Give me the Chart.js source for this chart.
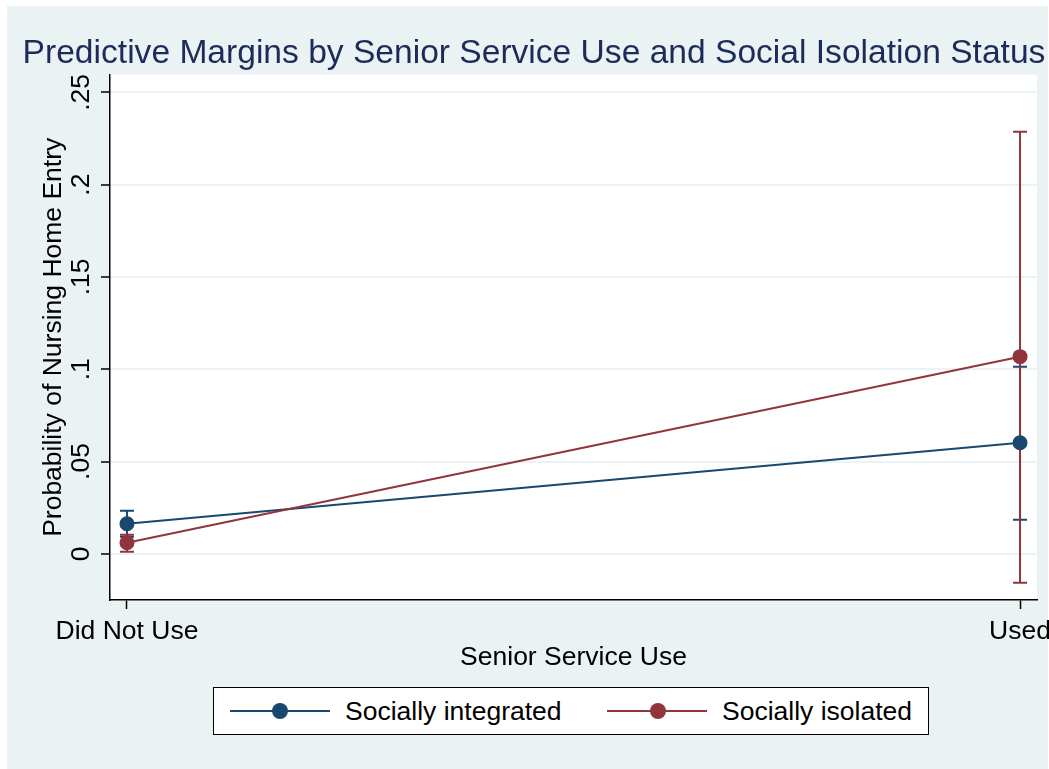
<!DOCTYPE html>
<html>
<head>
<meta charset="utf-8">
<script src="https://cdn.jsdelivr.net/npm/chart.js@4/dist/chart.umd.min.js"></script>
<style>
  body { margin: 0; background: #fff; }
  #wrap { position: relative; width: 1049px; height: 769px; overflow: hidden; }
  #bg { position: absolute; left: 7px; top: 6px; right: 1px; bottom: 0; background: #eaf2f3; }
  #box { position: absolute; left: 0; top: 0; width: 1049px; height: 769px; }
  #legend { position: absolute; left: 213px; top: 687px; width: 714px; height: 46px;
    background: #fff; border: 1px solid #000; font-family: 'Liberation Sans', Arial, sans-serif; font-size: 26.5px; }
  .ln { position: absolute; top: 22px; width: 100px; height: 2px; }
  .dot { position: absolute; top: 15px; width: 16px; height: 16px; border-radius: 50%; }
  .lab { position: absolute; top: 8px; line-height: 30px; color: #000; white-space: nowrap; }
</style>
</head>
<body>
<div id="wrap">
  <div id="bg"></div>
  <div id="box"><canvas id="myChart"></canvas></div>
  <div id="legend">
    <div class="ln" style="left:16px;background:#1a476f"></div>
    <div class="dot" style="left:58px;background:#1a476f"></div>
    <div class="lab" style="left:131px">Socially integrated</div>
    <div class="ln" style="left:393px;background:#90353b"></div>
    <div class="dot" style="left:436px;background:#90353b"></div>
    <div class="lab" style="left:508px">Socially isolated</div>
  </div>
</div>
<script>
'use strict';

// data
var categories = ['Did Not Use', 'Used'];
var integrated = [0.0163, 0.0602];
var integratedLo = [0.0092, 0.0184];
var integratedHi = [0.0233, 0.1013];
var isolated = [0.0060, 0.1068];
var isolatedLo = [0.0011, -0.0157];
var isolatedHi = [0.0103, 0.2287];
var yTicks = [0, 0.05, 0.1, 0.15, 0.2, 0.25];
var yTickLabels = ['0', '.05', '.1', '.15', '.2', '.25'];

var navy = '#1a476f';
var maroon = '#90353b';
var font = "'Liberation Sans', Arial, sans-serif";

function pts(values) {
  return values.map(function(v, i) { return { x: i, y: v }; });
}

// one capped vertical bar per category
function ciSets(lo, hi, color, order) {
  return categories.map(function(c, i) {
    return {
      data: [{ x: i, y: lo[i] }, { x: i, y: hi[i] }],
      borderColor: color,
      borderWidth: 2,
      pointStyle: 'line',
      pointRadius: 7,
      pointBorderColor: color,
      pointBorderWidth: 2,
      order: order
    };
  });
}

// white plot region
var plotBgPlugin = {
  id: 'plotBg',
  beforeDraw: function(chart) {
    var a = chart.chartArea;
    chart.ctx.save();
    chart.ctx.fillStyle = '#fff';
    chart.ctx.fillRect(a.left, a.top, a.right - a.left, a.bottom - a.top);
    chart.ctx.restore();
  }
};

// rotated y tick labels, Stata style
var yLabelsPlugin = {
  id: 'yLabels',
  afterDraw: function(chart) {
    var ctx = chart.ctx;
    var y = chart.scales.y;
    ctx.save();
    ctx.font = '26.5px ' + font;
    ctx.fillStyle = '#000';
    ctx.textAlign = 'center';
    ctx.textBaseline = 'alphabetic';
    for (var i = 0; i < yTicks.length; i++) {
      ctx.save();
      ctx.translate(89, y.getPixelForValue(yTicks[i]));
      ctx.rotate(-Math.PI / 2);
      ctx.fillText(yTickLabels[i], 0, 0);
      ctx.restore();
    }
    ctx.restore();
  }
};

var datasets = []
  .concat(ciSets(integratedLo, integratedHi, navy, 4))
  .concat(ciSets(isolatedLo, isolatedHi, maroon, 3))
  .concat([{
    data: pts(integrated),
    borderColor: navy,
    backgroundColor: navy,
    borderWidth: 2,
    pointRadius: 7.5,
    pointBorderWidth: 0,
    order: 2
  }, {
    data: pts(isolated),
    borderColor: maroon,
    backgroundColor: maroon,
    borderWidth: 2,
    pointRadius: 7.5,
    pointBorderWidth: 0,
    order: 1
  }]);

var ctx = document.getElementById('myChart').getContext('2d');
var chart = new Chart(ctx, {
  type: 'line',
  data: { datasets: datasets },
  plugins: [plotBgPlugin, yLabelsPlugin],
  options: {
    responsive: true,
    maintainAspectRatio: false,
    animation: false,
    layout: { padding: { left: 19, right: 0, top: 6, bottom: 98 } },
    plugins: {
      legend: { display: false },
      tooltip: { enabled: false },
      title: {
        display: true,
        text: 'Predictive Margins by Senior Service Use and Social Isolation Status',
        color: '#1c2b59',
        font: { family: font, size: 33.6, weight: 'normal', lineHeight: 1 },
        padding: { top: 31, bottom: 4 }
      }
    },
    scales: {
      x: {
        type: 'linear',
        min: -0.019,
        max: 1.019,
        afterBuildTicks: function(s) { s.ticks = categories.map(function(c, i) { return { value: i }; }); },
        ticks: {
          color: '#000',
          font: { family: font, size: 26.5, lineHeight: 0.85 },
          padding: 11,
          maxRotation: 0,
          callback: function(v) { return categories[v]; }
        },
        grid: { drawOnChartArea: false, tickLength: 9, tickColor: '#000', tickWidth: 1.5 },
        border: { color: '#000', width: 1.5 },
        title: {
          display: true,
          text: 'Senior Service Use',
          color: '#000',
          font: { family: font, size: 26.5, lineHeight: 1 },
          padding: { top: -9, bottom: 0 }
        },
        afterFit: function(s) { s.paddingLeft = 0; s.paddingRight = 0; }
      },
      y: {
        min: -0.025,
        max: 0.2596,
        afterBuildTicks: function(s) { s.ticks = yTicks.map(function(v) { return { value: v }; }); },
        ticks: { display: false },
        grid: { color: '#eaf2f3', lineWidth: 2, tickLength: 9, tickColor: '#000', tickWidth: 1.5 },
        border: { color: '#000', width: 1.5 },
        title: {
          display: true,
          text: 'Probability of Nursing Home Entry',
          color: '#000',
          font: { family: font, size: 26.5, lineHeight: 1 },
          padding: { top: 21, bottom: 0 }
        },
        afterFit: function(s) { s.width = 91; }
      },
      y2: {
        position: 'right',
        display: true,
        ticks: { display: false },
        grid: { display: false },
        border: { display: false },
        afterFit: function(s) { s.width = 12; }
      }
    }
  }
});
</script>
</body>
</html>
